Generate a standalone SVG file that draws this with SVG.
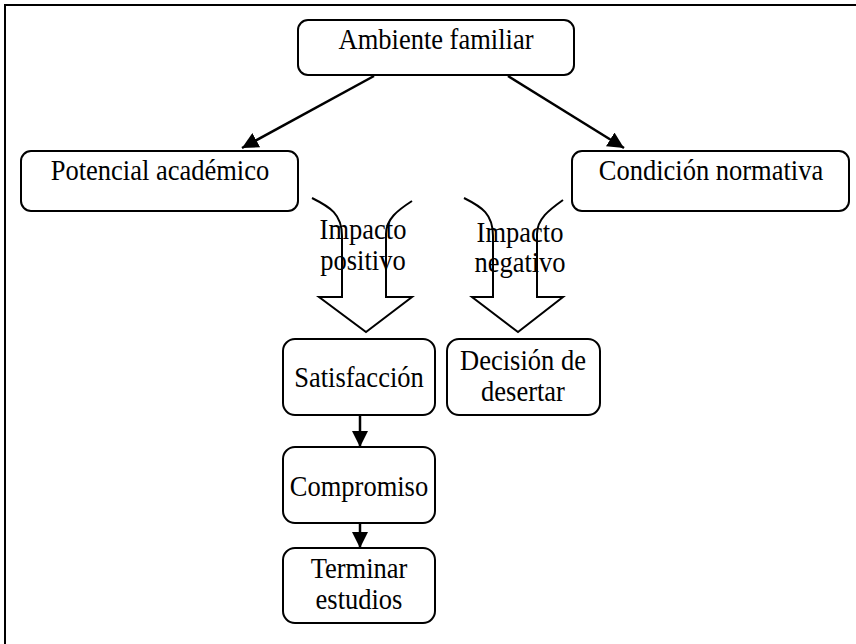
<svg xmlns="http://www.w3.org/2000/svg" width="856" height="644" viewBox="0 0 856 644">
<style>
.box{fill:#fff;stroke:#000;stroke-width:2}
.t{font-family:"Liberation Serif","Times New Roman",serif;font-size:26.5px;fill:#000;text-anchor:middle}
.c{stroke:#000;stroke-width:2.5;fill:none}
.blk{fill:none;stroke:#000;stroke-width:2;stroke-linejoin:miter}
</style>
<defs>
<marker id="ah" viewBox="0 0 10 10" refX="10" refY="5" markerWidth="6.5" markerHeight="6.5" markerUnits="strokeWidth" orient="auto">
<path d="M0 0 L10 5 L0 10 Z" fill="#000"/>
</marker>
</defs>
<rect x="5" y="5" width="900" height="700" fill="#fff" stroke="#000" stroke-width="2"/>
<g id="connectors">
<line class="c" x1="374" y1="76" x2="242" y2="148" marker-end="url(#ah)"/>
<line class="c" x1="508" y1="76" x2="624" y2="148" marker-end="url(#ah)"/>
<line class="c" x1="360" y1="415" x2="360" y2="447" marker-end="url(#ah)"/>
<line class="c" x1="360" y1="523" x2="360" y2="548" marker-end="url(#ah)"/>
</g>
<g id="ambiente">
<rect class="box" x="298" y="20" width="276" height="55" rx="10"/>
<text class="t" transform="translate(436,49) scale(1,1.15)">Ambiente familiar</text>
</g>
<g id="potencial">
<rect class="box" x="21" y="151" width="277" height="60" rx="10"/>
<text class="t" transform="translate(160,180) scale(1,1.15)">Potencial académico</text>
</g>
<g id="condicion">
<rect class="box" x="572" y="151" width="277" height="60" rx="10"/>
<text class="t" transform="translate(711,180) scale(1,1.15)">Condición normativa</text>
</g>
<g id="impacto-positivo">
<path class="blk" d="M312 198 C330 207 342 214 342 236 L342 297 L319 297 L366 332 L412 297 L386 297 L386 234 C386 219 398 210 412 201"/>
<text class="t" transform="translate(363,239) scale(1,1.15)">Impacto</text>
<text class="t" transform="translate(363,270) scale(1,1.15)">positivo</text>
</g>
<g id="impacto-negativo">
<path class="blk" d="M464 198 C482 207 493 214 493 236 L493 297 L472 297 L518 332 L563 297 L537 297 L537 234 C537 219 549 210 563 200"/>
<text class="t" transform="translate(520,242) scale(1,1.15)">Impacto</text>
<text class="t" transform="translate(520,272) scale(1,1.15)">negativo</text>
</g>
<g id="satisfaccion">
<rect class="box" x="283" y="339" width="152" height="76" rx="12"/>
<text class="t" transform="translate(359,387) scale(1,1.15)">Satisfacción</text>
</g>
<g id="decision">
<rect class="box" x="447" y="339" width="153" height="76" rx="12"/>
<text class="t" transform="translate(523,370) scale(1,1.15)">Decisión de</text>
<text class="t" transform="translate(523,401) scale(1,1.15)">desertar</text>
</g>
<g id="compromiso">
<rect class="box" x="283" y="447" width="152" height="76" rx="12"/>
<text class="t" transform="translate(359,496) scale(1,1.15)">Compromiso</text>
</g>
<g id="terminar">
<rect class="box" x="283" y="548" width="152" height="75" rx="12"/>
<text class="t" transform="translate(359,578) scale(1,1.08)">Terminar</text>
<text class="t" transform="translate(359,609) scale(1,1.08)">estudios</text>
</g>
</svg>
